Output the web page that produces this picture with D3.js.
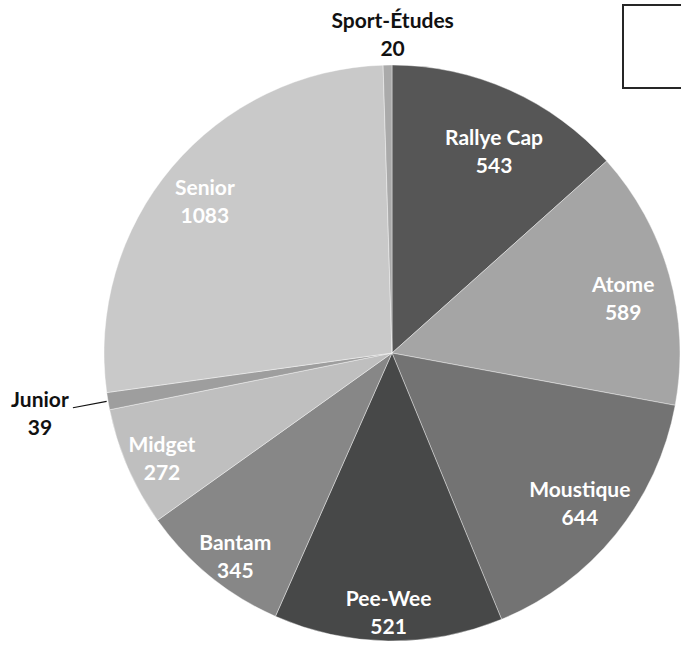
<!DOCTYPE html>
<html>
<head>
<meta charset="utf-8">
<script src="https://cdn.jsdelivr.net/npm/d3@7"></script>
<style>
  body { margin: 0; background: #fff; }
  svg text { font-family: Lato, "Open Sans", sans-serif; font-weight: bold; }
</style>
</head>
<body>
<div class="canvas"></div>
<script>
// data (clockwise from 12 o'clock)
const categories = ["Rallye Cap", "Atome", "Moustique", "Pee-Wee", "Bantam", "Midget", "Junior", "Senior", "Sport-Études"];
const values = [543, 589, 644, 521, 345, 272, 39, 1083, 20];
const colors = ["#565656", "#a5a5a5", "#737373", "#474848", "#878787", "#bfbfbf", "#9e9e9e", "#c9c9c9", "#aaaaaa"];

// labels outside the pie for the two thin slices
const outside = ["Junior", "Sport-Études"];
// label placement: [fraction of radius, angle nudge in degrees]
const labelPos = {
  "Rallye Cap": [0.786, 2.7], "Atome": [0.825, 2.3], "Moustique": [0.835, -0.4],
  "Pee-Wee": [0.9, 0], "Bantam": [0.89, -1.5], "Midget": [0.878, -1.1],
  "Senior": [0.837, -1.1], "Junior": [1.24, 0], "Sport-Études": [1.108, 1]
};

const width = 681, height = 647;
const cx = 392, cy = 353, r = 288;

const svg = d3.select(".canvas").append("svg")
  .attr("width", width)
  .attr("height", height);

const g = svg.append("g")
  .attr("transform", `translate(${cx},${cy})`);

const data = categories.map((c, i) => ({ name: c, value: values[i], color: colors[i] }));

const pie = d3.pie().value(d => d.value).sort(null);
const arc = d3.arc().innerRadius(0).outerRadius(r);
const arcs = pie(data);

g.selectAll("path.slice")
  .data(arcs)
  .join("path")
  .attr("class", "slice")
  .attr("d", arc)
  .attr("fill", d => d.data.color)
  .attr("stroke", "#fff")
  .attr("stroke-width", 0.4);

function labelPoint(d) {
  const lp = labelPos[d.data.name];
  const a = (d.startAngle + d.endAngle) / 2 + lp[1] * Math.PI / 180;
  const k = lp[0] * r;
  return [Math.sin(a) * k, -Math.cos(a) * k];
}

const labels = g.selectAll("text.lbl")
  .data(arcs)
  .join("text")
  .attr("class", "lbl")
  .attr("text-anchor", "middle")
  .attr("font-size", 21)
  .attr("fill", d => outside.includes(d.data.name) ? "#111" : "#fff")
  .attr("transform", d => {
    const p = labelPoint(d);
    return `translate(${p[0]},${p[1]})`;
  });

labels.append("tspan")
  .attr("x", 0)
  .attr("y", -6)
  .text(d => d.data.name);

labels.append("tspan")
  .attr("x", 0)
  .attr("y", 22)
  .text(d => d.value);

// leader line for Junior
const junior = arcs.find(d => d.data.name === "Junior");
const ja = (junior.startAngle + junior.endAngle) / 2;
const jp = labelPoint(junior);
g.append("line")
  .attr("x1", jp[0] + 33)
  .attr("y1", jp[1] - 5)
  .attr("x2", Math.sin(ja) * r * 1.005)
  .attr("y2", -Math.cos(ja) * r * 1.005)
  .attr("stroke", "#111")
  .attr("stroke-width", 1.2);

// empty legend box, cut by the right edge
svg.append("rect")
  .attr("x", 623)
  .attr("y", 5)
  .attr("width", 100)
  .attr("height", 83)
  .attr("fill", "none")
  .attr("stroke", "#262626")
  .attr("stroke-width", 2);
</script>
</body>
</html>
